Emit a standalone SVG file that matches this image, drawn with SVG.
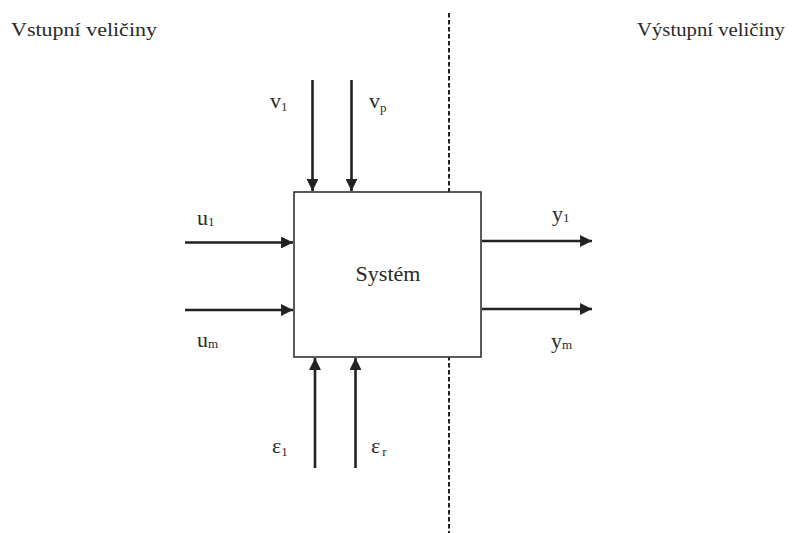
<svg xmlns="http://www.w3.org/2000/svg" width="797" height="533" viewBox="0 0 797 533">
<defs>
<marker id="ah" viewBox="0 0 10 10" refX="10" refY="5" markerWidth="4.8" markerHeight="4.6" markerUnits="strokeWidth" orient="auto">
<path d="M0,0 L10,5 L0,10 z" fill="#222"/>
</marker>
<style>
text{font-family:"Liberation Serif","Times New Roman",serif;fill:#2a2a2a}
.t{font-size:19px}
.l{font-size:22px}
.s{font-size:13px}
.arr{stroke:#222;stroke-width:2.6;fill:none;marker-end:url(#ah)}
</style>
</defs>
<rect width="797" height="533" fill="#fff"/>
<g id="divider">
<line x1="449" y1="13" x2="449" y2="533" stroke="#222" stroke-width="2" stroke-dasharray="4.5,2.5"/>
</g>
<g id="titles">
<text class="t" x="11" y="36" textLength="146" lengthAdjust="spacingAndGlyphs">Vstupní veličiny</text>
<text class="t" x="637" y="36" textLength="148" lengthAdjust="spacingAndGlyphs">Výstupní veličiny</text>
</g>
<g id="system">
<rect x="294" y="192" width="187" height="165" fill="#fff" stroke="#333" stroke-width="1.6"/>
<text x="388" y="281" text-anchor="middle" style="font-size:22px">Systém</text>
</g>
<g id="connectors">
<line class="arr" x1="312.5" y1="80" x2="312.5" y2="191"/>
<line class="arr" x1="351.5" y1="80" x2="351.5" y2="191"/>
<line class="arr" x1="185" y1="242.5" x2="293" y2="242.5"/>
<line class="arr" x1="185" y1="310" x2="293" y2="310"/>
<line class="arr" x1="315" y1="468" x2="315" y2="358"/>
<line class="arr" x1="355.5" y1="468" x2="355.5" y2="358"/>
<line class="arr" x1="482" y1="241" x2="592" y2="241"/>
<line class="arr" x1="482" y1="309" x2="592" y2="309"/>
</g>
<g id="labels">
<text class="l" x="270" y="108">v<tspan class="s" dy="3">1</tspan></text>
<text class="l" x="369" y="108">v<tspan class="s" dy="4">p</tspan></text>
<text class="l" x="197" y="225">u<tspan class="s" dy="1">1</tspan></text>
<text class="l" x="197" y="347">u<tspan class="s" dy="1">m</tspan></text>
<text class="l" x="552" y="221">y<tspan class="s" dy="1">1</tspan></text>
<text class="l" x="551" y="348">y<tspan class="s" dy="1">m</tspan></text>
<text class="l" x="272" y="453">ε<tspan class="s" dy="3">1</tspan></text>
<text class="l" x="371" y="453">ε<tspan class="s" dx="2" dy="3">r</tspan></text>
</g>
</svg>
